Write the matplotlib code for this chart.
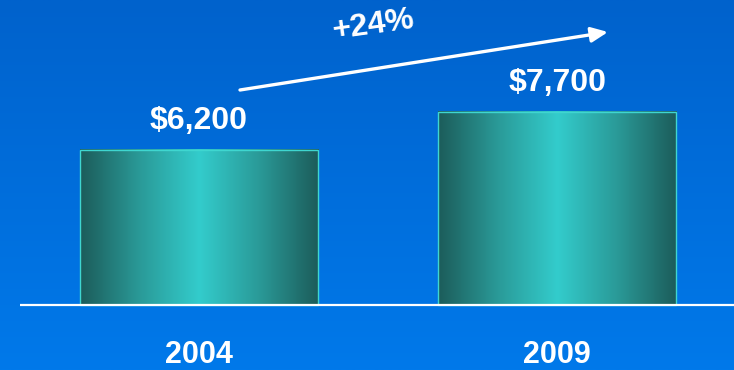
import numpy as np
import matplotlib
matplotlib.use('Agg')
import matplotlib.pyplot as plt
from matplotlib.colors import LinearSegmentedColormap

years = ['2004', '2009']
values = [6200, 7700]
growth = round((values[1] / values[0] - 1) * 100)

plt.rcParams['font.family'] = ['Liberation Sans', 'DejaVu Sans']

fig = plt.figure(figsize=(7.34, 3.70), dpi=100)
ax = fig.add_axes([0, 0, 1, 1])

# blue backdrop, a touch darker at the top
bg = LinearSegmentedColormap.from_list('bg', ['#0079ea', '#0062cc'])
ax.imshow(np.linspace(0, 1, 256).reshape(-1, 1)[::-1], cmap=bg, aspect='auto',
          extent=[0, 1, 0, 1], transform=ax.transAxes, zorder=0)

# metallic teal shading across each bar
teal = LinearSegmentedColormap.from_list(
    'teal', ['#1c5c5a', '#2a9a98', '#33cccc', '#2a9a98', '#1c5c5a'])
shade = np.linspace(0, 1, 256).reshape(1, -1)

x = np.arange(len(years))
width = 0.665
bars = ax.bar(x, values, width=width, color='none', edgecolor='#3fd6d0',
              linewidth=1, zorder=3)
for b in bars:
    ax.imshow(shade, cmap=teal, aspect='auto', zorder=2,
              extent=[b.get_x(), b.get_x() + b.get_width(), 0, b.get_height()])

ax.set_xlim(-0.556, 1.494)
ax.set_ylim(-2593, 12168)

# baseline
ax.plot([-0.5, 1.494], [0, 0], color='white', lw=1.6, zorder=4,
        solid_capstyle='butt')

for xi, v, yr in zip(x, values, years):
    ax.text(xi, v + 560, f'${v:,}', ha='center', va='bottom', color='white',
            fontsize=23, fontweight='bold', zorder=5)
    ax.text(xi, -2330, yr, ha='center', va='baseline', color='white',
            fontsize=22, fontweight='bold', zorder=5)

# growth arrow
ax.annotate('', xy=(608 / 734, 1 - 32 / 370), xytext=(240 / 734, 1 - 90 / 370),
            xycoords='axes fraction', textcoords='axes fraction',
            arrowprops=dict(arrowstyle='-|>,head_length=1.0,head_width=0.45',
                            color='white', lw=2.4, shrinkA=0, shrinkB=0),
            zorder=5)
ax.text(373 / 734, 1 - 25 / 370, f'+{growth}%', transform=ax.transAxes,
        ha='center', va='center', rotation=8, color='white',
        fontsize=23, fontweight='bold', zorder=5)

ax.axis('off')
fig.savefig('out.png', dpi=100)
